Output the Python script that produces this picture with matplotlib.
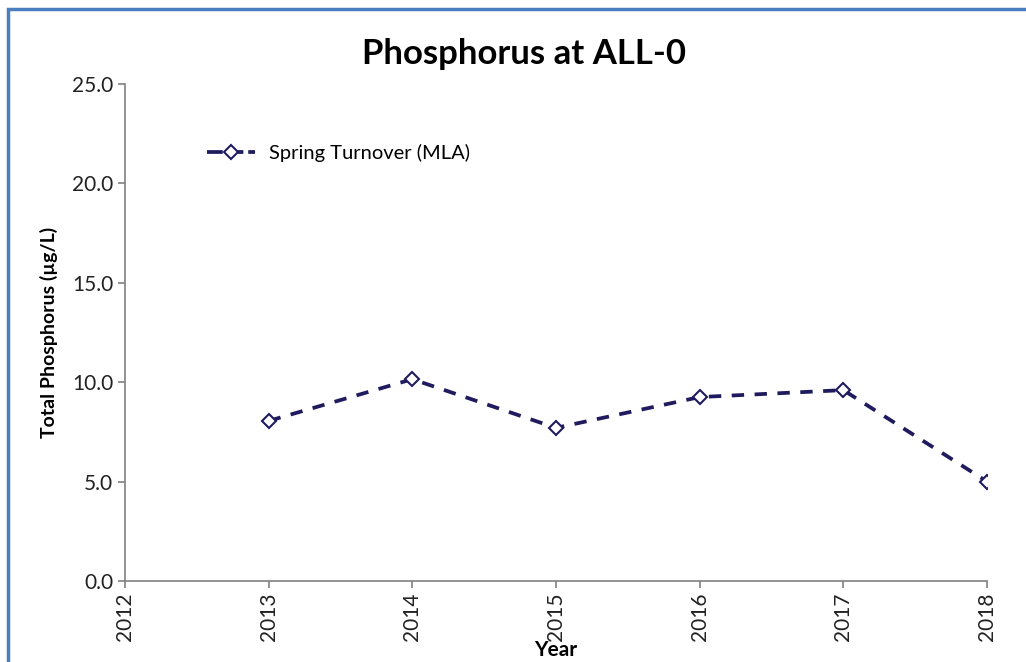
import matplotlib.pyplot as plt
from matplotlib.patches import Rectangle

# data
years = [2013, 2014, 2015, 2016, 2017, 2018]
phosphorus = [8.05, 10.15, 7.7, 9.25, 9.6, 5.0]
x_ticks = [2012, 2013, 2014, 2015, 2016, 2017, 2018]
y_ticks = [0, 5, 10, 15, 20, 25]
series_name = 'Spring Turnover (MLA)'

plt.rcParams['font.family'] = ['Lato', 'DejaVu Sans']

fig = plt.figure(figsize=(10.26, 6.62), dpi=100)
ax = fig.add_axes([0.1218, 0.1224, 0.8402, 0.7508])

# blue frame around the chart (runs off the right and bottom edges)
fig.patches.append(Rectangle((0.0075, -0.02), 1.05, 1.006, transform=fig.transFigure,
                             fill=False, edgecolor='#4a7ebf', linewidth=2.5))

line_color = '#1f1b5e'
ax.plot(years, phosphorus, color=line_color, linewidth=2.7, dashes=(3.3, 2.8),
        marker='D', markersize=7, markerfacecolor='white', markeredgecolor=line_color,
        markeredgewidth=1.5, label=series_name)

ax.set_xlim(2012, 2018)
ax.set_ylim(0, 25)
ax.set_xticks(x_ticks)
ax.set_xticklabels([str(y) for y in x_ticks], rotation=90)
ax.set_yticks(y_ticks)
ax.set_yticklabels([f'{v:.1f}' for v in y_ticks])

for s in ['top', 'right']:
    ax.spines[s].set_visible(False)
for s in ['left', 'bottom']:
    ax.spines[s].set_color('#808080')
    ax.spines[s].set_linewidth(1.2)
ax.tick_params(colors='#808080', labelcolor='#222222', labelsize=15, length=5, width=1.2)

ax.set_title('Phosphorus at ALL-0', fontsize=25, fontweight='bold', x=0.463, pad=14)
ax.set_ylabel('Total Phosphorus (µg/L)', fontsize=14, fontweight='bold')
ax.yaxis.set_label_coords(-0.078, 0.5)
ax.set_xlabel('Year', fontsize=15, fontweight='bold')
ax.xaxis.set_label_coords(0.5, -0.118)

leg = ax.legend(loc='center left', bbox_to_anchor=(0.074, 0.861), frameon=False, fontsize=14.5,
                handlelength=2.4, handletextpad=0.7)
# symmetric dash pattern in the legend sample: dash - diamond - dash
leg.get_lines()[0].set_dashes((4.2, 1.3))

fig.savefig('out.png', dpi=100)
